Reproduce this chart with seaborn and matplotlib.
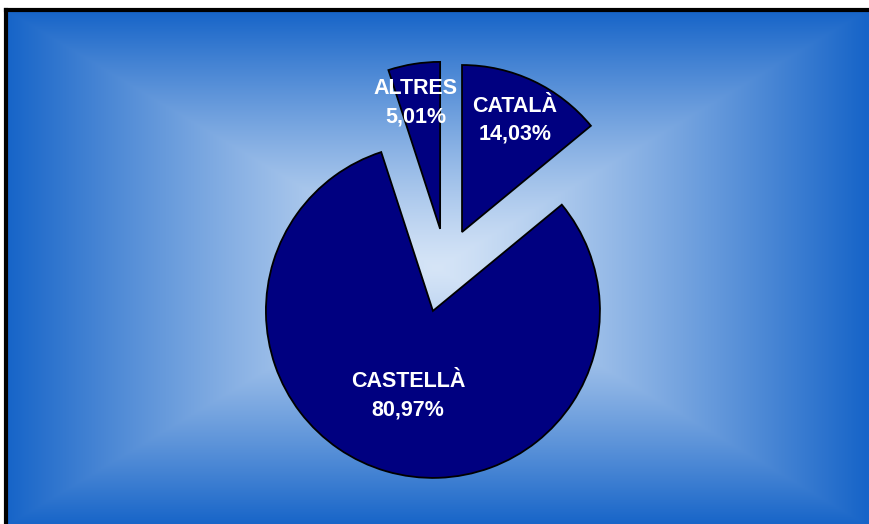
import numpy as np
import matplotlib
matplotlib.use('Agg')
import matplotlib.pyplot as plt
import seaborn as sns

sns.set_theme(style='white')
plt.rcParams['font.family'] = ['Liberation Sans', 'DejaVu Sans']

# data
labels = ['CATALÀ', 'CASTELLÀ', 'ALTRES']
shares = [14.03, 80.97, 5.01]
pct_text = ['14,03%', '80,97%', '5,01%']

# style
explode = [0.225, 0.28, 0.225]
label_dist = [0.74, 0.53, 0.77]
label_turn = [0, 0, 2.0]  # degrees, small nudge of label position
W, H = 870, 524
cx, cy, R = 446, H - 266, 167

fig = plt.figure(figsize=(W / 100, H / 100), dpi=100)
fig.patch.set_facecolor('white')

# background: rectangular gradient, light centre to blue edges
bg = fig.add_axes([0, 0, 1, 1])
x0, y0 = 6, 10
xs = np.linspace(x0, W + 10, 600)
ys = np.linspace(y0, H + 10, 400)
X, Y = np.meshgrid(xs, ys)
gx, gy = 437, 268
t = np.maximum(np.abs(X - gx) / (gx - x0), np.abs(Y - gy) / (gy - y0))
t = np.clip(t, 0, 1) ** 1.2
c_in = np.array([214, 229, 247]) / 255
c_out = np.array([22, 100, 200]) / 255
img = c_in[None, None, :] * (1 - t[..., None]) + c_out[None, None, :] * t[..., None]
bg.imshow(img, extent=[x0, W + 10, H - (H + 10), H - y0], origin='upper', aspect='auto')
bg.plot([x0, x0], [-20, H - y0], color='black', lw=3, solid_capstyle='projecting')
bg.plot([x0, W + 10], [H - y0, H - y0], color='black', lw=3, solid_capstyle='projecting')
bg.set_xlim(0, W)
bg.set_ylim(0, H)
bg.axis('off')

ax = fig.add_axes([0, 0, 1, 1])
ax.patch.set_alpha(0)
# pie's explode offset is in data units, so scale by the radius
wedges, _ = ax.pie(shares, explode=[e * R for e in explode], startangle=90, counterclock=False,
                   colors=['#000080'] * 3, center=(cx, cy), radius=R, frame=True,
                   wedgeprops=dict(edgecolor='black', linewidth=1.3))
for w, lab, pt, ex, d, turn in zip(wedges, labels, pct_text, explode, label_dist, label_turn):
    mid = np.deg2rad((w.theta1 + w.theta2) / 2)
    ang = mid + np.deg2rad(turn)
    px = cx + ex * R * np.cos(mid) + d * R * np.cos(ang)
    py = cy + ex * R * np.sin(mid) + d * R * np.sin(ang)
    ax.text(px, py, f'{lab}\n{pt}', ha='center', va='center', color='white',
            fontsize=15.5, fontweight='bold', linespacing=1.45)
ax.set_xlim(0, W)
ax.set_ylim(0, H)
ax.set_aspect('equal')
ax.axis('off')

fig.savefig('out.png', dpi=100)
